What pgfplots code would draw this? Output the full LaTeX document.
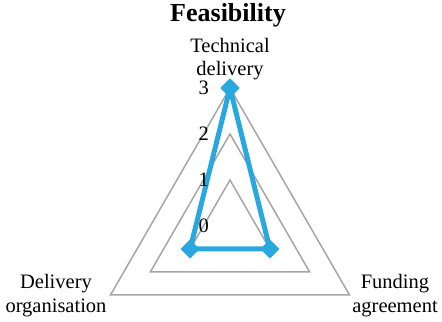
\documentclass[border=0pt]{standalone}
\usepackage{fontspec}
\setmainfont{Liberation Serif}
\usepackage{pgfplots}
\pgfplotsset{compat=1.18}
\usepgfplotslibrary{polar}

\definecolor{radarblue}{HTML}{29A8E0}
\definecolor{ringgray}{HTML}{A6A6A6}

\begin{document}
\begin{tikzpicture}
\begin{polaraxis}[
    scale only axis,
    width=276bp, height=276bp,
    ymin=0, ymax=3,
    hide axis,
    clip=false,
]
% grid rings (1, 2, 3)
\addplot[ringgray, line width=1.5bp, no markers] coordinates {(90,1) (210,1) (330,1) (90,1) (210,1)};
\addplot[ringgray, line width=1.5bp, no markers] coordinates {(90,2) (210,2) (330,2) (90,2) (210,2)};
\addplot[ringgray, line width=1.5bp, no markers] coordinates {(90,3) (210,3) (330,3) (90,3) (210,3)};

% Technical delivery, Funding agreement, Delivery organisation
\addplot[radarblue, line width=5bp, line join=round,
    mark=square*, mark size=6.5bp,
    mark options={solid, rotate=45, fill=radarblue, draw=radarblue, line width=0.5bp}]
    coordinates {(90,3) (330,1) (210,1) (90,3)};

% radial value labels
\pgfplotsinvokeforeach{0,1,2,3}{
    \node[anchor=east, inner sep=0pt, xshift=-21bp,
          font=\fontsize{20.5bp}{23bp}\selectfont] at (axis cs:90,#1) {#1};
}
\coordinate (c) at (axis cs:0,0);
\end{polaraxis}

\begin{scope}[every node/.style={inner sep=0pt, font=\fontsize{20.5bp}{23bp}\selectfont}]
\node[anchor=base, font=\fontsize{26bp}{30bp}\selectfont\bfseries] at ([shift={(-2bp,204bp)}]c) {Feasibility};
\node[anchor=base] at ([shift={(0bp,173bp)}]c) {Technical};
\node[anchor=base] at ([shift={(0bp,150bp)}]c) {delivery};
\node[anchor=base] at ([shift={(-174bp,-63bp)}]c) {Delivery};
\node[anchor=base] at ([shift={(-174bp,-86.5bp)}]c) {organisation};
\node[anchor=base] at ([shift={(165bp,-63bp)}]c) {Funding};
\node[anchor=base] at ([shift={(165bp,-86.5bp)}]c) {agreement};
\end{scope}

\pgfresetboundingbox
\path ([shift={(-230bp,-96bp)}]c) rectangle ([shift={(212bp,226bp)}]c);
\end{tikzpicture}
\end{document}
